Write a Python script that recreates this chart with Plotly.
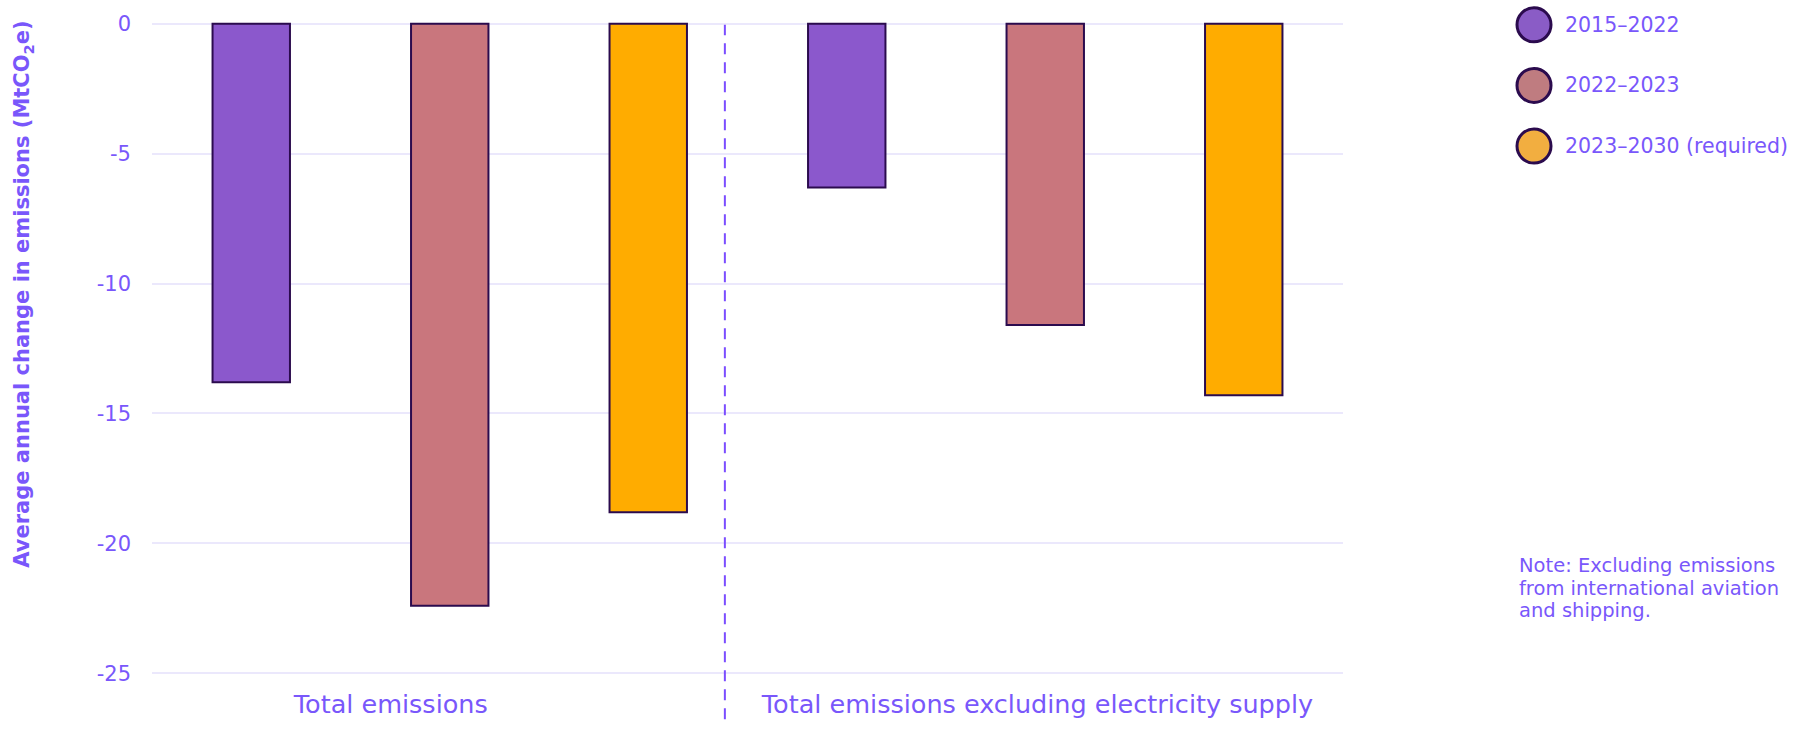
import plotly.graph_objects as go

# ---------------- data ----------------
categories = ["Total emissions", "Total emissions excluding electricity supply"]
series_names = ["2015–2022", "2022–2023", "2023–2030 (required)"]
values_2015_2022 = [-13.8, -6.3]
values_2022_2023 = [-22.4, -11.6]
values_2023_2030 = [-18.8, -14.3]
y_tick_vals = [0, -5, -10, -15, -20, -25]
y_tick_text = ["0", "-5", "-10", "-15", "-20", "-25"]
y_title = "Average annual change in emissions (MtCO<sub>2</sub>e)"
note_lines = ["Note: Excluding emissions", "from international aviation", "and shipping."]

# ---------------- style ----------------
W, H = 1797, 731
ML, MR, MT, MB = 152, 454, 12, 39
PW, PH = W - ML - MR, H - MT - MB
FONT = "DejaVu Sans"
TXT = "#7957fb"
bar_colors = ["#8b58cc", "#c9767d", "#ffac00"]
legend_colors = ["#8a5cc6", "#bf7c80", "#f2ae40"]
OUTLINE = "#2b0b4e"

def px_x(px):
    return (px - ML) / PW

def px_y(py):
    return (H - MB - py) / PH

series_values = [values_2015_2022, values_2022_2023, values_2023_2030]
xpos = list(range(len(categories)))

fig = go.Figure()
for name, vals, col in zip(series_names, series_values, bar_colors):
    fig.add_trace(go.Bar(
        x=xpos, y=vals, name=name,
        marker=dict(color=col, line=dict(color=OUTLINE, width=2)),
        showlegend=False, hoverinfo="skip",
    ))

# divider between the two groups
fig.add_shape(type="line", xref="x", yref="paper",
              x0=0.462, x1=0.462, y0=px_y(731), y1=px_y(21),
              line=dict(color="#7b4dff", width=2, dash="11px,8px"))

# custom legend (circles + labels)
row_y = [21, 83, 145]
for name, col, ry in zip(series_names, legend_colors, row_y):
    fig.add_shape(type="circle", xref="paper", yref="paper",
                  xsizemode="pixel", ysizemode="pixel",
                  xanchor=px_x(1534), yanchor=px_y(ry),
                  x0=-17, x1=17, y0=-17, y1=17,
                  fillcolor=col, line=dict(color=OUTLINE, width=3))
    fig.add_annotation(xref="paper", yref="paper", x=px_x(1563), y=px_y(ry),
                       xanchor="left", yanchor="middle", showarrow=False,
                       text=name, font=dict(family=FONT, size=20.5, color=TXT))

# note
for i, line in enumerate(note_lines):
    fig.add_annotation(xref="paper", yref="paper", x=px_x(1517), y=px_y(574 + 23 * i),
                       xanchor="left", yanchor="middle", showarrow=False,
                       text=line, font=dict(family=FONT, size=19.5, color=TXT))

# y-axis title
fig.add_annotation(xref="paper", yref="paper", x=px_x(23), y=px_y(297),
                   xanchor="center", yanchor="middle", showarrow=False, textangle=-90,
                   text="<b>" + y_title + "</b>",
                   font=dict(family=FONT, size=21, color=TXT))

fig.update_layout(
    width=W, height=H,
    margin=dict(l=ML, r=MR, t=MT, b=MB, pad=0),
    paper_bgcolor="white", plot_bgcolor="white",
    barmode="group", bargap=0.0, bargroupgap=0.61,
    font=dict(family=FONT, color=TXT),
    showlegend=False,
)
fig.update_xaxes(
    range=[-0.5, 1.5], tickmode="array",
    tickvals=[-0.099, 0.987], ticktext=categories,
    tickfont=dict(family=FONT, size=25.5, color=TXT),
    showgrid=False, zeroline=False, showline=False, ticks="",
    ticklabelstandoff=5,
)
fig.update_yaxes(
    range=[-25.3, 0.3], tickmode="array",
    tickvals=y_tick_vals, ticktext=y_tick_text,
    tickfont=dict(family=FONT, size=21, color=TXT),
    showgrid=True, gridcolor="#ebe8fc", gridwidth=1.5,
    zeroline=False, showline=False, ticks="",
    ticklabelstandoff=20,
)

fig.write_html("out.html", config={"displayModeBar": False},
               post_script="document.body.style.margin='0px';")
